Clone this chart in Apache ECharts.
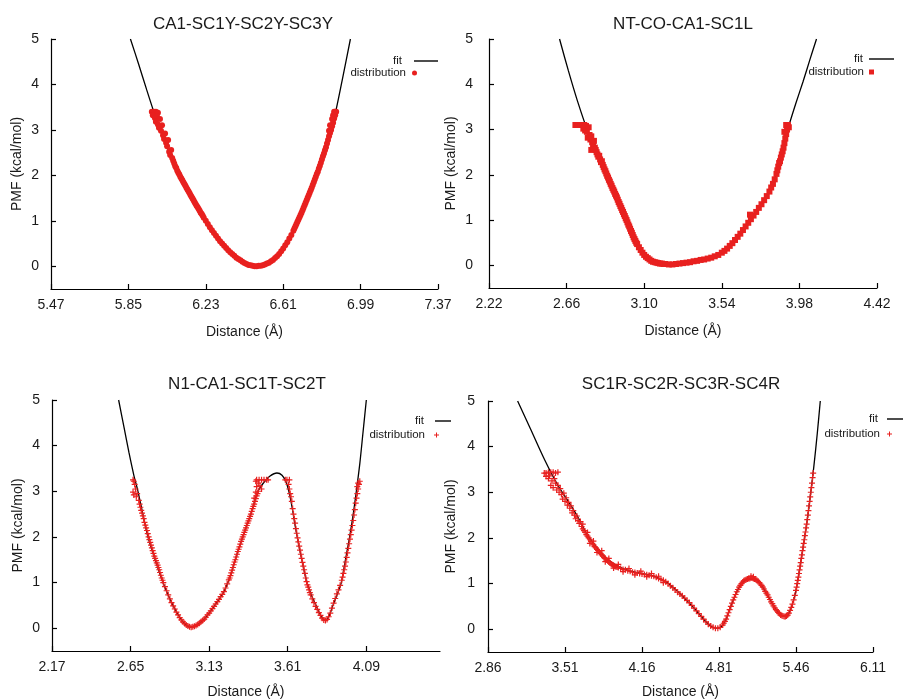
<!DOCTYPE html>
<html><head><meta charset="utf-8">
<script src="https://cdn.jsdelivr.net/npm/echarts@6/dist/echarts.min.js"></script>
<style>html,body{margin:0;padding:0;background:#fff}#c{width:903px;height:700px}</style>
</head><body><div id="c"></div>
<script>
// ---------------- DATA ----------------
const titles = ['CA1-SC1Y-SC2Y-SC3Y', 'NT-CO-CA1-SC1L', 'N1-CA1-SC1T-SC2T', 'SC1R-SC2R-SC3R-SC4R'];
const xName = 'Distance (Å)';
const yName = 'PMF (kcal/mol)';
const xRange1 = [5.47, 7.37];
const xRange2 = [2.22, 4.42];
const xRange3 = [2.17, 4.54];
const xRange4 = [2.86, 6.11];
const yRange = [-0.5, 5];
const xTicks1 = [5.47, 5.85, 6.23, 6.61, 6.99, 7.37];
const xTicks2 = [2.22, 2.66, 3.10, 3.54, 3.98, 4.42];
const xTicks3 = [2.17, 2.65, 3.13, 3.61, 4.09];
const xTicks4 = [2.86, 3.51, 4.16, 4.81, 5.46, 6.11];
const yTicks = [0, 1, 2, 3, 4, 5];
const legendNames = ['fit', 'distribution'];

const fit1 = [[5.86,5.0],[5.90,4.45],[5.94,3.88],[5.98,3.33],[6.02,2.83],[6.06,2.42],[6.10,2.05],[6.14,1.70],[6.18,1.38],[6.22,1.08],[6.26,0.80],[6.30,0.56],[6.34,0.35],[6.38,0.19],[6.42,0.07],[6.46,0.01],[6.50,0.01],[6.54,0.08],[6.58,0.22],[6.62,0.46],[6.66,0.78],[6.70,1.18],[6.74,1.62],[6.78,2.08],[6.82,2.62],[6.86,3.25],[6.90,4.10],[6.94,5.0]];
const dist1 = [[5.965,3.40],[5.975,3.40],[5.985,3.40],[5.995,3.38],[5.97,3.32],[5.98,3.26],[5.99,3.30],[5.985,3.18],[5.995,3.12],[6.005,3.24],[6.00,3.05],[6.01,2.98],[6.015,3.10],[6.02,2.88],[6.025,2.80],[6.03,2.92],[6.035,2.72],[6.04,2.64],[6.045,2.78],[6.05,2.52],[6.055,2.45],[6.06,2.56],[6.065,2.38],[6.07,2.32],[6.075,2.26],[6.08,2.20],[6.085,2.16],[6.09,2.10],[6.095,2.06],[6.10,2.02],[6.105,1.97],[6.11,1.93],[6.115,1.89],[6.12,1.85],[6.125,1.81],[6.13,1.77],[6.135,1.73],[6.14,1.69],[6.145,1.65],[6.15,1.61],[6.155,1.57],[6.16,1.53],[6.165,1.49],[6.17,1.45],[6.175,1.41],[6.18,1.37],[6.185,1.33],[6.19,1.30],[6.195,1.26],[6.20,1.22],[6.205,1.18],[6.21,1.15],[6.215,1.11],[6.22,1.07],[6.23,1.00],[6.24,0.93],[6.25,0.86],[6.26,0.79],[6.27,0.73],[6.28,0.67],[6.29,0.61],[6.30,0.55],[6.31,0.50],[6.32,0.45],[6.33,0.40],[6.34,0.35],[6.35,0.31],[6.36,0.27],[6.37,0.23],[6.38,0.19],[6.39,0.16],[6.40,0.13],[6.41,0.10],[6.42,0.07],[6.43,0.05],[6.44,0.03],[6.45,0.02],[6.46,0.01],[6.47,0.00],[6.48,0.00],[6.49,0.01],[6.50,0.01],[6.51,0.02],[6.52,0.04],[6.53,0.06],[6.54,0.08],[6.55,0.11],[6.56,0.14],[6.57,0.18],[6.58,0.22],[6.59,0.27],[6.60,0.33],[6.61,0.39],[6.62,0.46],[6.63,0.53],[6.64,0.61],[6.65,0.69],[6.66,0.78],[6.665,0.83],[6.67,0.88],[6.675,0.93],[6.68,0.98],[6.685,1.03],[6.69,1.08],[6.695,1.13],[6.70,1.18],[6.705,1.23],[6.71,1.29],[6.715,1.34],[6.72,1.40],[6.725,1.45],[6.73,1.51],[6.735,1.56],[6.74,1.62],[6.745,1.67],[6.75,1.73],[6.755,1.79],[6.76,1.85],[6.765,1.91],[6.77,1.97],[6.775,2.03],[6.78,2.08],[6.785,2.15],[6.79,2.21],[6.795,2.28],[6.80,2.35],[6.805,2.42],[6.81,2.48],[6.815,2.55],[6.82,2.62],[6.825,2.70],[6.83,2.78],[6.835,2.86],[6.84,2.93],[6.845,3.00],[6.85,3.08],[6.855,3.16],[6.86,3.25],[6.865,3.32],[6.87,3.40],[6.86,3.40],[6.855,3.32],[6.85,3.24],[6.865,3.40],[6.84,3.10],[6.835,2.98]];

const fit2 = [[2.62,5.0],[2.67,4.30],[2.72,3.65],[2.777,3.0],[2.82,2.68],[2.87,2.20],[2.91,1.80],[2.95,1.45],[3.00,1.00],[3.04,0.62],[3.08,0.34],[3.12,0.16],[3.16,0.07],[3.20,0.04],[3.24,0.02],[3.28,0.03],[3.32,0.05],[3.36,0.07],[3.40,0.10],[3.44,0.13],[3.48,0.17],[3.51,0.21],[3.54,0.28],[3.57,0.37],[3.60,0.49],[3.63,0.63],[3.66,0.78],[3.69,0.94],[3.72,1.10],[3.75,1.27],[3.78,1.44],[3.81,1.63],[3.84,1.90],[3.86,2.15],[3.88,2.45],[3.90,2.78],[3.92,3.08],[3.96,3.58],[4.00,4.05],[4.04,4.55],[4.077,5.0]];
const dist2 = [[2.71,3.10],[2.72,3.10],[2.73,3.10],[2.74,3.10],[2.75,3.10],[2.76,3.10],[2.77,3.08],[2.755,3.02],[2.765,2.98],[2.775,2.95],[2.785,3.05],[2.79,2.88],[2.78,2.82],[2.795,2.78],[2.80,2.85],[2.805,2.72],[2.81,2.65],[2.815,2.75],[2.82,2.60],[2.80,2.55],[2.825,2.55],[2.83,2.50],[2.835,2.45],[2.84,2.40],[2.845,2.42],[2.85,2.34],[2.855,2.28],[2.86,2.30],[2.865,2.22],[2.87,2.17],[2.875,2.12],[2.88,2.08],[2.885,2.03],[2.89,1.98],[2.895,1.94],[2.90,1.89],[2.905,1.85],[2.91,1.80],[2.915,1.76],[2.92,1.71],[2.925,1.67],[2.93,1.63],[2.935,1.58],[2.94,1.54],[2.945,1.50],[2.95,1.45],[2.955,1.40],[2.96,1.36],[2.965,1.31],[2.97,1.27],[2.975,1.22],[2.98,1.18],[2.985,1.13],[2.99,1.09],[2.995,1.04],[3.00,1.00],[3.005,0.95],[3.01,0.90],[3.015,0.86],[3.02,0.81],[3.025,0.76],[3.03,0.72],[3.035,0.67],[3.04,0.62],[3.045,0.58],[3.05,0.54],[3.055,0.50],[3.06,0.47],[3.07,0.40],[3.08,0.34],[3.09,0.28],[3.10,0.23],[3.11,0.19],[3.12,0.16],[3.13,0.13],[3.14,0.10],[3.15,0.08],[3.16,0.07],[3.17,0.06],[3.18,0.05],[3.19,0.04],[3.20,0.04],[3.21,0.03],[3.22,0.03],[3.24,0.02],[3.26,0.02],[3.28,0.03],[3.30,0.04],[3.32,0.05],[3.34,0.06],[3.36,0.07],[3.38,0.09],[3.40,0.10],[3.42,0.12],[3.44,0.13],[3.46,0.15],[3.48,0.17],[3.50,0.20],[3.52,0.23],[3.54,0.28],[3.555,0.32],[3.57,0.37],[3.585,0.43],[3.60,0.49],[3.615,0.56],[3.63,0.63],[3.645,0.70],[3.66,0.78],[3.675,0.86],[3.69,0.94],[3.705,1.02],[3.72,1.10],[3.70,1.12],[3.735,1.18],[3.75,1.27],[3.765,1.35],[3.78,1.44],[3.795,1.53],[3.81,1.63],[3.82,1.72],[3.83,1.80],[3.84,1.90],[3.85,2.02],[3.855,2.10],[3.86,2.18],[3.865,2.26],[3.87,2.30],[3.875,2.38],[3.88,2.45],[3.885,2.52],[3.89,2.60],[3.895,2.70],[3.90,2.80],[3.905,2.90],[3.91,3.00],[3.905,3.10],[3.915,3.10],[3.92,3.05],[3.895,2.95]];

const fit3 = [[2.577,5.0],[2.61,4.40],[2.64,3.85],[2.67,3.35],[2.695,3.0],[2.725,2.5],[2.756,2.0],[2.80,1.5],[2.848,1.0],[2.88,0.72],[2.909,0.5],[2.94,0.30],[2.97,0.14],[3.00,0.04],[3.021,0.02],[3.06,0.08],[3.10,0.20],[3.14,0.38],[3.18,0.58],[3.22,0.80],[3.26,1.15],[3.30,1.62],[3.34,2.05],[3.388,2.54],[3.428,3.0],[3.47,3.22],[3.50,3.33],[3.544,3.40],[3.575,3.35],[3.60,3.20],[3.62,2.95],[3.64,2.58],[3.66,2.15],[3.69,1.60],[3.724,1.05],[3.755,0.72],[3.785,0.48],[3.81,0.29],[3.835,0.17],[3.86,0.25],[3.886,0.5],[3.91,0.72],[3.937,1.0],[3.96,1.45],[3.988,2.0],[4.01,2.5],[4.029,3.0],[4.05,3.6],[4.07,4.3],[4.09,5.0]];
const dist3 = [[2.665,3.25],[2.67,3.22],[2.675,3.15],[2.665,2.98],[2.67,2.92],[2.68,3.05],[2.685,2.88],[2.69,2.95],[2.70,2.80],[2.705,2.72],[2.71,2.65],[2.715,2.58],[2.72,2.52],[2.725,2.46],[2.73,2.40],[2.735,2.32],[2.74,2.26],[2.745,2.20],[2.75,2.14],[2.755,2.07],[2.76,2.00],[2.765,1.94],[2.77,1.88],[2.775,1.82],[2.78,1.76],[2.785,1.70],[2.79,1.64],[2.795,1.58],[2.80,1.53],[2.805,1.48],[2.81,1.43],[2.815,1.38],[2.82,1.33],[2.825,1.28],[2.83,1.22],[2.835,1.16],[2.84,1.10],[2.845,1.05],[2.85,1.00],[2.86,0.91],[2.87,0.82],[2.88,0.73],[2.89,0.64],[2.90,0.56],[2.91,0.49],[2.92,0.42],[2.93,0.35],[2.94,0.29],[2.95,0.23],[2.96,0.18],[2.97,0.14],[2.98,0.10],[2.99,0.07],[3.00,0.05],[3.01,0.03],[3.02,0.02],[3.03,0.03],[3.04,0.04],[3.05,0.06],[3.06,0.08],[3.07,0.11],[3.08,0.14],[3.09,0.17],[3.10,0.20],[3.11,0.24],[3.12,0.29],[3.13,0.33],[3.14,0.38],[3.15,0.43],[3.16,0.48],[3.17,0.53],[3.18,0.58],[3.19,0.63],[3.20,0.69],[3.21,0.74],[3.22,0.80],[3.23,0.88],[3.24,0.97],[3.25,1.06],[3.255,1.10],[3.26,1.15],[3.265,1.21],[3.27,1.27],[3.275,1.33],[3.28,1.39],[3.285,1.45],[3.29,1.50],[3.295,1.56],[3.30,1.62],[3.305,1.68],[3.31,1.73],[3.315,1.78],[3.32,1.84],[3.325,1.90],[3.33,1.95],[3.335,2.00],[3.34,2.05],[3.345,2.10],[3.35,2.15],[3.355,2.20],[3.36,2.25],[3.365,2.30],[3.37,2.35],[3.375,2.40],[3.38,2.45],[3.385,2.50],[3.39,2.56],[3.395,2.62],[3.40,2.67],[3.405,2.72],[3.41,2.78],[3.415,2.84],[3.42,2.90],[3.425,2.95],[3.43,3.00],[3.405,2.85],[3.415,2.98],[3.42,3.10],[3.43,3.18],[3.415,3.22],[3.42,3.25],[3.435,3.25],[3.45,3.25],[3.465,3.25],[3.48,3.25],[3.49,3.25],[3.44,3.12],[3.45,3.05],[3.595,3.25],[3.605,3.25],[3.62,3.25],[3.615,3.15],[3.62,3.05],[3.625,2.95],[3.63,2.88],[3.635,2.78],[3.64,2.62],[3.645,2.50],[3.65,2.40],[3.655,2.30],[3.66,2.18],[3.665,2.08],[3.67,1.98],[3.675,1.89],[3.68,1.80],[3.685,1.71],[3.69,1.62],[3.695,1.53],[3.70,1.44],[3.705,1.36],[3.71,1.28],[3.715,1.20],[3.72,1.10],[3.725,1.02],[3.73,0.95],[3.735,0.90],[3.74,0.84],[3.745,0.78],[3.75,0.73],[3.76,0.64],[3.77,0.56],[3.78,0.48],[3.79,0.41],[3.80,0.34],[3.81,0.28],[3.82,0.22],[3.83,0.18],[3.84,0.17],[3.85,0.19],[3.86,0.25],[3.87,0.33],[3.88,0.44],[3.89,0.55],[3.90,0.65],[3.91,0.75],[3.92,0.84],[3.93,0.94],[3.94,1.05],[3.945,1.12],[3.95,1.20],[3.955,1.28],[3.96,1.36],[3.965,1.45],[3.97,1.55],[3.975,1.65],[3.98,1.75],[3.985,1.85],[3.99,1.95],[3.995,2.05],[4.00,2.15],[4.005,2.25],[4.01,2.36],[4.015,2.48],[4.02,2.60],[4.025,2.74],[4.03,2.85],[4.035,2.95],[4.04,3.05],[4.045,3.15],[4.05,3.22],[4.04,3.18],[4.035,3.10]];

const fit4 = [[3.11,5.0],[3.22,4.38],[3.34,3.70],[3.45,3.15],[3.55,2.75],[3.62,2.45],[3.69,2.10],[3.76,1.85],[3.82,1.65],[3.90,1.47],[3.97,1.36],[4.04,1.29],[4.10,1.25],[4.18,1.21],[4.26,1.16],[4.31,1.11],[4.37,1.03],[4.43,0.90],[4.49,0.76],[4.54,0.62],[4.59,0.49],[4.64,0.34],[4.69,0.19],[4.74,0.07],[4.79,0.02],[4.83,0.06],[4.87,0.22],[4.91,0.50],[4.95,0.76],[4.99,0.96],[5.03,1.07],[5.07,1.10],[5.10,1.10],[5.14,1.05],[5.17,0.96],[5.20,0.83],[5.23,0.70],[5.26,0.56],[5.29,0.44],[5.32,0.34],[5.35,0.29],[5.375,0.28],[5.40,0.35],[5.43,0.55],[5.46,0.85],[5.49,1.30],[5.52,1.80],[5.55,2.30],[5.58,2.90],[5.61,3.55],[5.64,4.30],[5.665,5.0]];
const dist4 = [[3.335,3.42],[3.35,3.42],[3.37,3.44],[3.39,3.44],[3.41,3.44],[3.43,3.42],[3.45,3.44],[3.35,3.35],[3.37,3.30],[3.38,3.36],[3.40,3.25],[3.39,3.15],[3.41,3.10],[3.42,3.30],[3.43,3.20],[3.44,3.05],[3.45,3.15],[3.46,3.00],[3.47,3.08],[3.48,2.95],[3.49,2.85],[3.50,2.98],[3.51,2.80],[3.52,2.88],[3.53,2.72],[3.54,2.78],[3.55,2.65],[3.56,2.70],[3.57,2.55],[3.58,2.60],[3.59,2.50],[3.60,2.42],[3.61,2.48],[3.62,2.38],[3.63,2.32],[3.64,2.36],[3.65,2.25],[3.66,2.20],[3.66,2.30],[3.67,2.16],[3.68,2.12],[3.69,2.07],[3.70,2.04],[3.70,2.12],[3.71,2.00],[3.72,1.96],[3.72,1.88],[3.73,1.92],[3.74,1.88],[3.75,1.85],[3.75,1.93],[3.76,1.81],[3.77,1.78],[3.78,1.75],[3.78,1.68],[3.79,1.72],[3.80,1.69],[3.81,1.66],[3.82,1.63],[3.82,1.72],[3.83,1.60],[3.84,1.57],[3.85,1.55],[3.85,1.48],[3.86,1.52],[3.87,1.50],[3.88,1.47],[3.88,1.55],[3.89,1.45],[3.90,1.43],[3.91,1.41],[3.92,1.40],[3.92,1.34],[3.93,1.38],[3.94,1.37],[3.95,1.36],[3.96,1.35],[3.96,1.42],[3.98,1.33],[4.00,1.31],[4.00,1.26],[4.02,1.30],[4.04,1.28],[4.05,1.33],[4.06,1.27],[4.08,1.25],[4.10,1.24],[4.10,1.19],[4.12,1.23],[4.14,1.22],[4.15,1.27],[4.16,1.21],[4.18,1.20],[4.20,1.19],[4.20,1.15],[4.22,1.18],[4.24,1.17],[4.24,1.22],[4.26,1.16],[4.28,1.14],[4.30,1.11],[4.30,1.16],[4.32,1.09],[4.34,1.07],[4.34,1.02],[4.36,1.04],[4.38,1.00],[4.40,0.95],[4.42,0.91],[4.44,0.86],[4.46,0.81],[4.48,0.77],[4.50,0.73],[4.52,0.68],[4.54,0.63],[4.56,0.58],[4.58,0.52],[4.60,0.46],[4.62,0.40],[4.64,0.34],[4.66,0.28],[4.68,0.22],[4.70,0.16],[4.72,0.11],[4.74,0.07],[4.76,0.04],[4.78,0.02],[4.80,0.02],[4.82,0.04],[4.84,0.09],[4.85,0.13],[4.86,0.17],[4.87,0.22],[4.88,0.29],[4.89,0.36],[4.90,0.43],[4.91,0.50],[4.92,0.57],[4.93,0.64],[4.94,0.70],[4.95,0.76],[4.96,0.82],[4.97,0.87],[4.98,0.92],[4.99,0.96],[5.00,1.00],[5.01,1.03],[5.02,1.06],[5.03,1.08],[5.04,1.09],[5.05,1.10],[5.06,1.11],[5.07,1.11],[5.08,1.12],[5.08,1.16],[5.09,1.12],[5.10,1.11],[5.10,1.15],[5.11,1.10],[5.12,1.09],[5.13,1.07],[5.14,1.05],[5.15,1.02],[5.16,0.99],[5.17,0.96],[5.18,0.92],[5.19,0.88],[5.20,0.83],[5.21,0.79],[5.22,0.75],[5.23,0.70],[5.24,0.65],[5.25,0.60],[5.26,0.56],[5.27,0.51],[5.28,0.47],[5.29,0.43],[5.30,0.40],[5.31,0.37],[5.32,0.34],[5.33,0.31],[5.34,0.30],[5.35,0.29],[5.36,0.28],[5.37,0.28],[5.38,0.29],[5.39,0.31],[5.40,0.35],[5.41,0.41],[5.42,0.48],[5.43,0.55],[5.44,0.64],[5.45,0.74],[5.46,0.85],[5.465,0.92],[5.47,1.00],[5.475,1.07],[5.48,1.14],[5.485,1.22],[5.49,1.30],[5.495,1.38],[5.50,1.46],[5.505,1.55],[5.51,1.63],[5.515,1.72],[5.52,1.80],[5.525,1.88],[5.53,1.96],[5.535,2.05],[5.54,2.13],[5.545,2.22],[5.55,2.30],[5.555,2.40],[5.56,2.50],[5.565,2.60],[5.57,2.70],[5.575,2.80],[5.58,2.90],[5.585,3.00],[5.59,3.10],[5.595,3.20],[5.60,3.32],[5.605,3.42]];

// ---------------- LAYOUT / STYLE ----------------
const FONT = 'Liberation Sans, Arial, sans-serif';
const RED = '#e8201f';
const PLUS = 'path://M2,0L3,0L3,2L5,2L5,3L3,3L3,5L2,5L2,3L0,3L0,2L2,2Z';
const panels = [
  {title: titles[0], fit: fit1, dist: dist1, xr: xRange1, xt: xTicks1,
   grid: {left: 51, top: 39, width: 387, height: 250}, tx: 243, ty: 16,
   sym: 'circle', ss: 6, yLabelMargin: 12, yGap: 27, xGap: 36,
   lgA: {right: 465, top: 55, w: 24, pad: 7}, lgB: {right: 486, top: 67, w: 5, pad: 1}},
  {title: titles[1], fit: fit2, dist: dist2, xr: xRange2, xt: xTicks2,
   grid: {left: 489, top: 39, width: 388, height: 249}, tx: 683, ty: 16,
   sym: 'rect', ss: 6, yLabelMargin: 16, yGap: 31, xGap: 36,
   lgA: {right: 9, top: 53, w: 25, pad: 1}, lgB: {right: 29, top: 66, w: 5, pad: 0}},
  {title: titles[2], fit: fit3, dist: dist3, xr: xRange3, xt: xTicks3,
   grid: {left: 52, top: 400, width: 388, height: 251}, tx: 247, ty: 376,
   sym: PLUS, ss: 6, yLabelMargin: 12, yGap: 27, xGap: 34,
   lgA: {right: 452, top: 415, w: 16, pad: 6}, lgB: {right: 464, top: 429, w: 5, pad: 4}},
  {title: titles[3], fit: fit4, dist: dist4, xr: xRange4, xt: xTicks4,
   grid: {left: 488, top: 401, width: 385, height: 251}, tx: 681, ty: 376,
   sym: PLUS, ss: 6, yLabelMargin: 13, yGap: 30, xGap: 33,
   lgA: {right: 0, top: 413, w: 16, pad: 4}, lgB: {right: 11, top: 428, w: 5, pad: 2}}
];

const axisLineStyle = {color: '#000', width: 1.2};
const option = {
  animation: false,
  backgroundColor: '#fff',
  title: [], grid: [], xAxis: [], yAxis: [], series: [], legend: []
};
panels.forEach((p, i) => {
  option.title.push({text: p.title, left: p.tx, top: p.ty, textAlign: 'center', padding: 0,
    textStyle: {fontFamily: FONT, fontSize: 17, fontWeight: 'normal', color: '#1a1a1a'}});
  option.grid.push(Object.assign({containLabel: false}, p.grid));
  option.xAxis.push({type: 'value', gridIndex: i, min: p.xr[0], max: p.xr[1],
    name: xName, nameLocation: 'middle', nameGap: p.xGap,
    nameTextStyle: {fontFamily: FONT, fontSize: 14, color: '#1a1a1a'},
    axisLine: {show: true, onZero: false, lineStyle: axisLineStyle},
    axisTick: {show: true, inside: true, length: 5, customValues: p.xt, lineStyle: axisLineStyle},
    axisLabel: {customValues: p.xt, margin: 9, fontFamily: FONT, fontSize: 14, color: '#1a1a1a',
      formatter: v => v.toFixed(2)},
    splitLine: {show: false}});
  option.yAxis.push({type: 'value', gridIndex: i, min: yRange[0], max: yRange[1],
    name: yName, nameLocation: 'middle', nameGap: p.yGap,
    nameTextStyle: {fontFamily: FONT, fontSize: 14, color: '#1a1a1a'},
    axisLine: {show: true, onZero: false, lineStyle: axisLineStyle},
    axisTick: {show: true, inside: true, length: 5, customValues: yTicks, lineStyle: axisLineStyle},
    axisLabel: {customValues: yTicks, margin: p.yLabelMargin, fontFamily: FONT, fontSize: 14, color: '#1a1a1a',
      formatter: v => String(Math.round(v))},
    splitLine: {show: false}});
  option.series.push({type: 'line', name: legendNames[0], xAxisIndex: i, yAxisIndex: i,
    data: p.fit, symbol: 'none', showSymbol: false, smooth: 0.3, clip: true, z: 2,
    lineStyle: {color: '#000', width: 1.3}, itemStyle: {color: '#000'}});
  option.series.push({type: 'scatter', name: legendNames[1], xAxisIndex: i, yAxisIndex: i,
    data: p.dist, symbol: p.sym, symbolSize: p.ss, z: 3,
    itemStyle: {color: RED, opacity: 1}});
  option.legend.push({data: [{name: legendNames[0], icon: 'rect'}], right: p.lgA.right, top: p.lgA.top, align: 'right',
    itemWidth: p.lgA.w, itemHeight: 1.4, padding: 0, selectedMode: false,
    textStyle: {fontFamily: FONT, fontSize: 11.5, color: '#1a1a1a', padding: [0, p.lgA.pad, 0, 0]}});
  option.legend.push({data: [{name: legendNames[1], icon: p.sym}], right: p.lgB.right, top: p.lgB.top, align: 'right',
    itemWidth: p.lgB.w, itemHeight: p.lgB.w, padding: 0, selectedMode: false,
    textStyle: {fontFamily: FONT, fontSize: 11.5, color: '#1a1a1a', padding: [0, p.lgB.pad, 0, 0]}});
});
const chart = echarts.init(document.getElementById('c'), null, {renderer: 'canvas'});
chart.setOption(option);
</script></body></html>
